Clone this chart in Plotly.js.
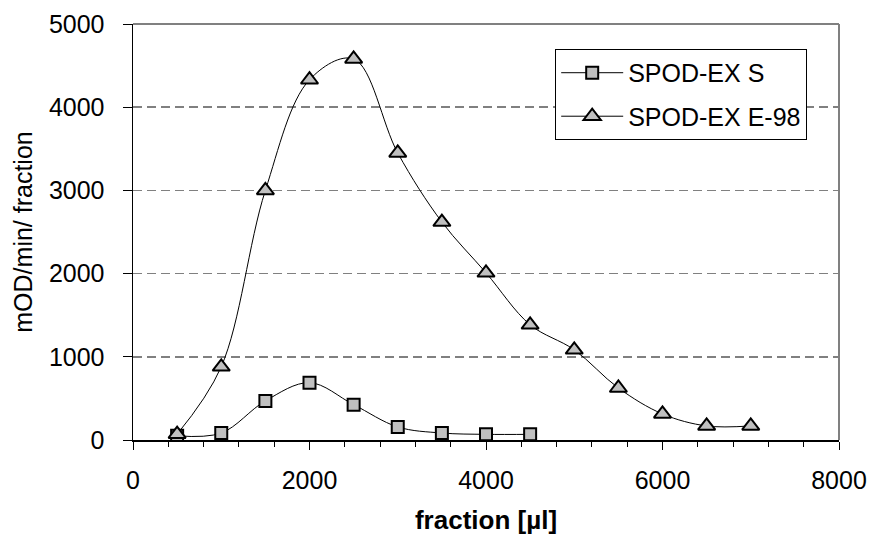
<!DOCTYPE html>
<html>
<head>
<meta charset="utf-8">
<script src="https://cdn.plot.ly/plotly-3.0.1.min.js"></script>
<style>html,body{margin:0;padding:0;background:#fff;}#chart{width:869px;height:535px;}</style>
</head>
<body>
<div id="chart"></div>
<script>
// Data
const fractionS = [500, 1000, 1500, 2000, 2500, 3000, 3500, 4000, 4500];
const valuesS = [50, 84, 470, 689, 425, 157, 84, 68, 68];
const fractionE = [500, 1000, 1500, 2000, 2500, 3000, 3500, 4000, 4500, 5000, 5500, 6000, 6500, 7000];
const valuesE = [70, 880, 3000, 4330, 4580, 3450, 2620, 2010, 1385, 1084, 625, 313, 169, 169];
const seriesNames = ['SPOD-EX S', 'SPOD-EX E-98'];
const xTicks = [0, 2000, 4000, 6000, 8000];
const yTicks = [0, 1000, 2000, 3000, 4000, 5000];

const FONT = 'Liberation Sans, Arial, sans-serif';

const traces = [
  {
    x: fractionS, y: valuesS, name: seriesNames[0], legendgroup: 'a',
    type: 'scatter', mode: 'lines+markers',
    line: {color: '#000', width: 1, shape: 'spline', smoothing: 1},
    marker: {symbol: 'square', size: 12, color: '#c0c0c0', line: {color: '#000', width: 2}}
  },
  {
    x: fractionE, y: valuesE, name: seriesNames[1], legendgroup: 'b',
    type: 'scatter', mode: 'lines+markers',
    line: {color: '#000', width: 1, shape: 'spline', smoothing: 1},
    marker: {symbol: 'triangle-up', size: 15, color: '#c0c0c0', line: {color: '#000', width: 2}}
  }
];

const layout = {
  width: 869, height: 535,
  margin: {l: 133, r: 30, t: 24, b: 95},
  paper_bgcolor: '#fff', plot_bgcolor: '#fff',
  font: {family: FONT, size: 25, color: '#000'},
  showlegend: true,
  legend: {
    x: 0.598, y: 0.94, xanchor: 'left', yanchor: 'top',
    bgcolor: '#fff', bordercolor: '#000', borderwidth: 1,
    font: {family: FONT, size: 25, color: '#000'},
    tracegroupgap: 8, traceorder: 'grouped', itemwidth: 62
  },
  xaxis: {
    range: [0, 8000], tickvals: xTicks, ticktext: xTicks.map(String),
    showgrid: false, zeroline: false,
    showline: true, linecolor: '#000', linewidth: 1.5,
    ticks: 'outside', ticklen: 8, tickcolor: '#000', tickwidth: 1,
    minor: {dtick: 400, ticks: 'outside', ticklen: 5, tickcolor: '#000', tickwidth: 1, showgrid: false},
    ticklabelstandoff: 9,
    tickfont: {family: FONT, size: 25, color: '#000'},
    title: {text: '<b>fraction [µl]</b>', font: {family: FONT, size: 26, color: '#000'}, standoff: 20}
  },
  yaxis: {
    range: [0, 5000], tickvals: yTicks, ticktext: yTicks.map(String),
    showgrid: true, gridcolor: '#808080', gridwidth: 1.5, griddash: '9px,5px',
    zeroline: false,
    showline: true, linecolor: '#000', linewidth: 1.5,
    ticks: 'outside', ticklen: 9, tickcolor: '#000', tickwidth: 1,
    ticklabelstandoff: 13,
    tickfont: {family: FONT, size: 25, color: '#000'},
    title: {text: 'mOD/min/ fraction', font: {family: FONT, size: 25, color: '#000'}, standoff: 9}
  },
  shapes: [
    {type: 'line', xref: 'paper', yref: 'paper', x0: 0, x1: 1, y0: 1, y1: 1, line: {color: '#808080', width: 2}},
    {type: 'line', xref: 'paper', yref: 'paper', x0: 1, x1: 1, y0: 0, y1: 1, line: {color: '#808080', width: 2}}
  ]
};

Plotly.newPlot('chart', traces, layout, {displayModeBar: false, staticPlot: true});
</script>
</body>
</html>
